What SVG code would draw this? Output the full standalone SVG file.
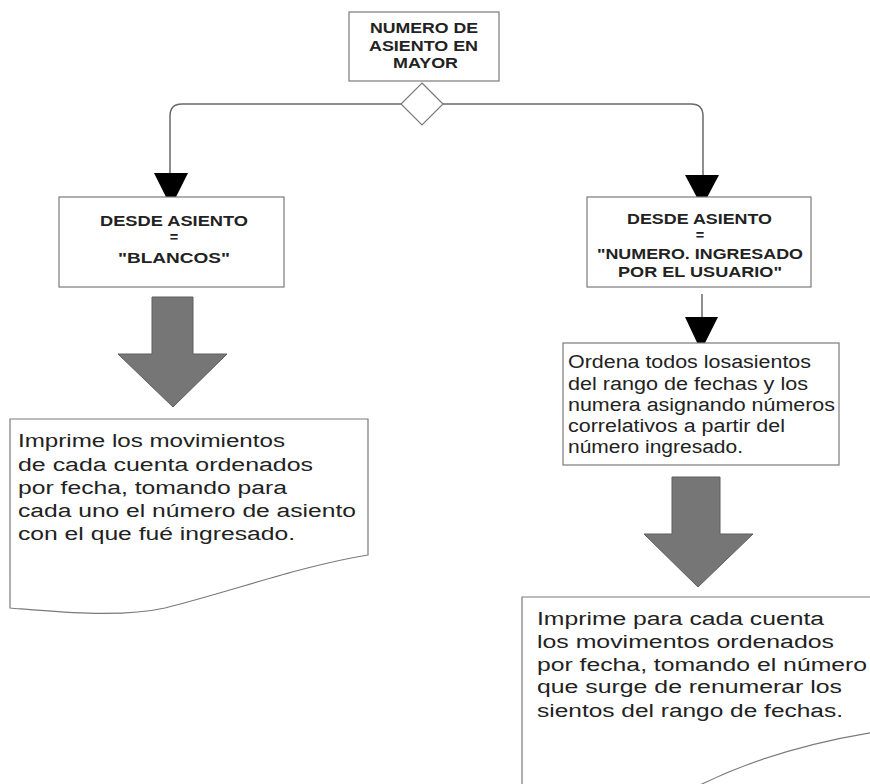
<svg xmlns="http://www.w3.org/2000/svg" width="870" height="784" viewBox="0 0 870 784">
<defs>
<style>
.box{fill:#fff;stroke:#7a7a7a;stroke-width:1.2}
.con{fill:none;stroke:#6a6a6a;stroke-width:1.5}
.head{fill:#000;stroke:none}
.big{fill:#767676;stroke:#5e5e5e;stroke-width:1}
.lbl{font-family:"Liberation Sans",Arial,sans-serif;font-weight:bold;font-size:14.5px;fill:#222}
.doc{font-family:"Liberation Sans",Arial,sans-serif;font-size:18px;fill:#222}
</style>
</defs>
<rect width="870" height="784" fill="#fff"/>
<g id="connectors">
<path class="con" d="M401 104 H182 Q170 104 170 116 V176"/>
<polygon class="head" points="154,173 188,173 171,207"/>
<path class="con" d="M443 104 H691 Q703 104 703 116 V177"/>
<polygon class="head" points="685,175 719,175 702,207"/>
<path class="con" d="M702 294 V318"/>
<polygon class="head" points="685,317 718,317 701,351"/>
<polygon class="big" points="152,297 193,297 193,354 227,354 173,407 118,354 152,354"/>
<polygon class="big" points="672,477 720,477 720,534 753,534 698,587 644,534 672,534"/>
</g>
<g id="n-start">
<rect class="box" x="349" y="12" width="150" height="69"/>
<text class="lbl" x="370" y="33" textLength="108" lengthAdjust="spacingAndGlyphs">NUMERO DE</text>
<text class="lbl" x="369" y="51" textLength="109" lengthAdjust="spacingAndGlyphs">ASIENTO EN</text>
<text class="lbl" x="393" y="68" textLength="65" lengthAdjust="spacingAndGlyphs">MAYOR</text>
</g>
<g id="n-decision">
<polygon class="box" points="422,83 443,104 422,125 401,104"/>
</g>
<g id="n-blancos">
<rect class="box" x="59" y="197" width="225" height="90"/>
<text class="lbl" x="100" y="226" textLength="148" lengthAdjust="spacingAndGlyphs">DESDE ASIENTO</text>
<text class="lbl" x="174" y="242" text-anchor="middle">=</text>
<text class="lbl" x="118" y="263" textLength="112" lengthAdjust="spacingAndGlyphs">"BLANCOS"</text>
</g>
<g id="n-usuario">
<rect class="box" x="587" y="197" width="224" height="90"/>
<text class="lbl" x="627" y="224" textLength="145" lengthAdjust="spacingAndGlyphs">DESDE ASIENTO</text>
<text class="lbl" x="700" y="240" text-anchor="middle">=</text>
<text class="lbl" x="597" y="259" textLength="206" lengthAdjust="spacingAndGlyphs">"NUMERO. INGRESADO</text>
<text class="lbl" x="618" y="277" textLength="164" lengthAdjust="spacingAndGlyphs">POR EL USUARIO"</text>
</g>
<g id="n-ordena">
<rect class="box" x="563" y="343" width="276" height="122"/>
<text class="doc" x="568" y="368" textLength="243" lengthAdjust="spacingAndGlyphs">Ordena todos losasientos</text>
<text class="doc" x="568" y="390" textLength="240" lengthAdjust="spacingAndGlyphs">del rango de fechas y los</text>
<text class="doc" x="568" y="411" textLength="267" lengthAdjust="spacingAndGlyphs">numera asignando números</text>
<text class="doc" x="568" y="432" textLength="217" lengthAdjust="spacingAndGlyphs">correlativos a partir del</text>
<text class="doc" x="568" y="453" textLength="175" lengthAdjust="spacingAndGlyphs">número ingresado.</text>
</g>
<g id="n-doc-left">
<path class="box" d="M10 419 H368 V555 C300 566 230 592 165 608 C120 618 60 612 10 608 Z"/>
<text class="doc" x="18" y="447" textLength="267" lengthAdjust="spacingAndGlyphs">Imprime los movimientos</text>
<text class="doc" x="18" y="471" textLength="295" lengthAdjust="spacingAndGlyphs">de cada cuenta ordenados</text>
<text class="doc" x="18" y="494" textLength="269" lengthAdjust="spacingAndGlyphs">por fecha, tomando para</text>
<text class="doc" x="18" y="517" textLength="338" lengthAdjust="spacingAndGlyphs">cada uno el número de asiento</text>
<text class="doc" x="18" y="540" textLength="277" lengthAdjust="spacingAndGlyphs">con el que fué ingresado.</text>
</g>
<g id="n-doc-right">
<path class="box" d="M522 790 V597 H875"/>
<path class="box" style="fill:none" d="M875 732 C800 744 740 764 690 790"/>
<text class="doc" x="537" y="625" textLength="287" lengthAdjust="spacingAndGlyphs">Imprime para cada cuenta</text>
<text class="doc" x="537" y="648" textLength="297" lengthAdjust="spacingAndGlyphs">los movimentos ordenados</text>
<text class="doc" x="537" y="671" textLength="330" lengthAdjust="spacingAndGlyphs">por fecha, tomando el número</text>
<text class="doc" x="537" y="693" textLength="305" lengthAdjust="spacingAndGlyphs">que surge de renumerar los</text>
<text class="doc" x="537" y="717" textLength="306" lengthAdjust="spacingAndGlyphs">sientos del rango de fechas.</text>
</g>
</svg>
